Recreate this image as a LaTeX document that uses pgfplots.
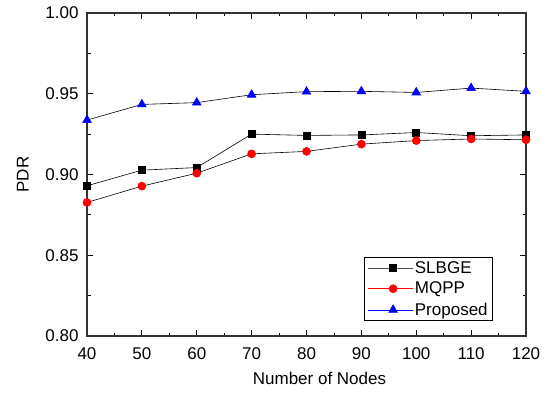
\documentclass[border=0pt]{standalone}
\usepackage{fontspec}
\setmainfont{Liberation Sans}
\usepackage{pgfplots}
\pgfplotsset{compat=1.18}
\begin{document}
\begin{tikzpicture}[x=1pt,y=1pt]
\begin{axis}[
  name=ax,
  scale only axis,
  width=439pt, height=323pt,
  xmin=40, xmax=120, ymin=0.80, ymax=1.00,
  xtick={40,50,...,120},
  ytick={0.80,0.85,0.90,0.95,1.00},
  minor x tick num=1, minor y tick num=1,
  tick align=inside,
  major tick length=6pt, minor tick length=3.5pt,
  every tick/.style={black, line width=0.8pt},
  axis line style={line width=1.1pt, black!80},
  /pgf/number format/assume math mode=true,
  yticklabel style={/pgf/number format/fixed, /pgf/number format/fixed zerofill, /pgf/number format/precision=2, xshift=-5pt},
  tick label style={font=\fontsize{17}{20}\selectfont},
  xticklabel style={yshift=-8pt},
  label style={font=\fontsize{17}{20}\selectfont},
  xlabel={Number of Nodes},
  ylabel={PDR},
  xlabel style={yshift=-6pt, xshift=13pt},
  ylabel style={yshift=10pt},
  legend style={at={(0.925,0.046)}, anchor=south east, draw=black, line width=0.8pt,
    font=\fontsize{17}{20}\selectfont, row sep=3.5pt, inner xsep=3pt, inner ysep=2pt},
  legend cell align=left,
  legend image code/.code={\path (-6pt,0pt) -- (39pt,0pt); \draw[#1] (0pt,0pt) -- (39pt,0pt); \draw[#1, mark repeat=2, mark phase=2] plot coordinates {(0pt,0pt) (19.5pt,0pt) (39pt,0pt)};},
]
\addplot[black, line width=0.6pt, mark=square*, mark size=3.5pt, mark options={fill=black}, forget plot]
  coordinates {(40,0.893) (50,0.9027) (60,0.9043) (70,0.925) (80,0.9242) (90,0.9245) (100,0.926) (110,0.924) (120,0.9245)};
\addplot[black, line width=0.6pt, mark=*, mark size=4pt, mark options={red, fill=red}, forget plot]
  coordinates {(40,0.8827) (50,0.8928) (60,0.9008) (70,0.9128) (80,0.9143) (90,0.9188) (100,0.921) (110,0.922) (120,0.9215)};
\addplot[black, line width=0.6pt, mark=triangle*, mark size=5pt, mark options={blue, fill=blue}, forget plot]
  coordinates {(40,0.9337) (50,0.9434) (60,0.9445) (70,0.9494) (80,0.9513) (90,0.9515) (100,0.9508) (110,0.9535) (120,0.9515)};
\addlegendimage{black!70, line width=0.6pt, mark=square*, mark size=3.5pt, mark options={black, fill=black}}
\addlegendentry{SLBGE}
\addlegendimage{red, line width=0.6pt, mark=*, mark size=4pt, mark options={red, fill=red}}
\addlegendentry{MQPP}
\addlegendimage{blue, line width=0.6pt, mark=triangle*, mark size=5pt, mark options={blue, fill=blue}}
\addlegendentry{Proposed}
\end{axis}
\useasboundingbox ([xshift=-87pt,yshift=-57pt]ax.south west) rectangle ([xshift=24pt,yshift=13pt]ax.north east);
\end{tikzpicture}
\end{document}
